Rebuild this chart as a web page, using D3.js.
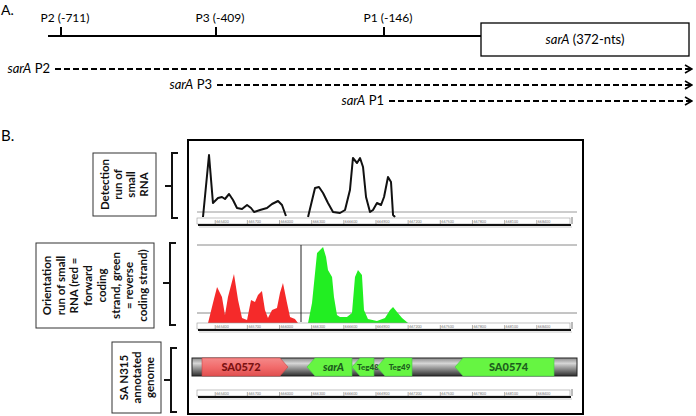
<!DOCTYPE html>
<html>
<head>
<meta charset="utf-8">
<script src="https://cdn.jsdelivr.net/npm/d3@7"></script>
<style>
  body { margin: 0; background: #fff; }
  svg { display: block; }
  text { font-family: Lato, "Open Sans", sans-serif; }
</style>
</head>
<body>
<svg id="chart" width="696" height="416"></svg>
<script>
// ---- Panel A data ----
const promoterNames = ["P2", "P3", "P1"];
const promoterPos = [-711, -409, -146];
const geneLength = 372;

// ---- Panel B data (genome coordinates, coverage) ----
const rulerTicks = [665400, 665700, 666000, 666300, 666600, 666900, 667200, 667500, 667800, 668100, 668400];

const detectRun1 = [
  [665286, 0], [665342, 62], [665379, 14], [665426, 19], [665463, 20], [665491, 18],
  [665529, 23], [665566, 17], [665603, 9], [665650, 8], [665697, 12], [665734, 9],
  [665762, 5], [665818, 7], [665883, 9], [665930, 13], [665986, 16], [666023, 12], [666060, 1]
];
const detectRun2 = [
  [666266, 0], [666331, 29], [666368, 30], [666406, 24], [666452, 14], [666499, 5],
  [666564, 4], [666611, 7], [666657, 27], [666685, 59], [666723, 54], [666751, 59],
  [666779, 50], [666807, 20], [666844, 5], [666872, 7], [666909, 14], [666947, 12],
  [666975, 20], [667012, 40], [667040, 35], [667059, 2], [667078, 0]
];
const forwardRun = [
  [665333, 0], [665379, 20], [665417, 36], [665463, 26], [665491, 8], [665519, 26],
  [665575, 49], [665613, 23], [665650, 5], [665697, 3], [665734, 23], [665771, 21],
  [665799, 28], [665836, 32], [665864, 13], [665892, 5], [665930, 13], [665976, 15],
  [666004, 30], [666032, 40], [666070, 20], [666098, 6], [666144, 4], [666172, 0]
];
const reverseRun = [
  [666266, 0], [666303, 20], [666350, 70], [666378, 73], [666406, 76], [666434, 66],
  [666452, 53], [666490, 46], [666508, 26], [666536, 8], [666564, 6], [666629, 6],
  [666676, 10], [666704, 46], [666732, 53], [666769, 48], [666788, 13], [666825, 4],
  [666909, 2], [666984, 5], [667031, 13], [667059, 16], [667096, 11], [667143, 5], [667199, 0]
];

const geneNames = ["SA0572", "sarA", "Teg48", "Teg49", "SA0574"];
const geneStart = [665277, 666256, 666676, 666909, 667637];
const geneEnd = [666079, 666676, 666881, 667236, 668561];
const geneStrand = ["+", "-", "-", "-", "-"];

const trackLabels = [
  ["Detection", "run of", "small", "RNA"],
  ["Orientation", "run of small", "RNA (red =", "forward", "coding", "strand, green", "= reverse", "coding strand)"],
  ["SA N315", "annotated", "genome"]
];

const svg = d3.select("#chart");

// ---- Panel A ----
svg.append("text").attr("x", 1).attr("y", 15).attr("font-size", 14).text("A.");

// schematic, not to scale: piecewise linear
const xA = d3.scaleLinear()
  .domain([-740, -711, -409, -146, 0, geneLength])
  .range([48, 61, 216, 384, 481, 689]);

svg.append("line")
  .attr("x1", xA(-740)).attr("x2", xA(0))
  .attr("y1", 36).attr("y2", 36)
  .attr("stroke", "#000").attr("stroke-width", 2);

promoterPos.forEach((p, i) => {
  svg.append("line")
    .attr("x1", xA(p)).attr("x2", xA(p))
    .attr("y1", 27).attr("y2", 36)
    .attr("stroke", "#000").attr("stroke-width", 2);
  svg.append("text")
    .attr("x", xA(p) + 4).attr("y", 22)
    .attr("text-anchor", "middle").attr("font-size", 12)
    .text(`${promoterNames[i]} (${p})`);
});

svg.append("rect")
  .attr("x", xA(0)).attr("y", 23)
  .attr("width", xA(geneLength) - xA(0)).attr("height", 33)
  .attr("fill", "#fff").attr("stroke", "#000").attr("stroke-width", 1.3);

const geneTxt = svg.append("text")
  .attr("x", (xA(0) + xA(geneLength)) / 2).attr("y", 44)
  .attr("text-anchor", "middle").attr("font-size", 13);
geneTxt.append("tspan").attr("font-style", "italic").text("sarA");
geneTxt.append("tspan").text(" (372-nts)");

svg.append("defs").append("marker")
  .attr("id", "chev").attr("viewBox", "0 0 10 10")
  .attr("refX", 9).attr("refY", 5)
  .attr("markerWidth", 5).attr("markerHeight", 5)
  .attr("markerUnits", "strokeWidth")
  .attr("orient", "auto")
  .append("path").attr("d", "M2,1 L9,5 L2,9")
  .attr("fill", "none").attr("stroke", "#000").attr("stroke-width", 1.6);

const transcriptY = [69, 85, 101];
const transcriptStart = [55, 217, 389];
promoterNames.forEach((n, i) => {
  const y = transcriptY[i];
  svg.append("line")
    .attr("x1", transcriptStart[i]).attr("x2", 692)
    .attr("y1", y).attr("y2", y)
    .attr("stroke", "#000").attr("stroke-width", 2)
    .attr("stroke-dasharray", "6 3")
    .attr("marker-end", "url(#chev)");
  const t = svg.append("text")
    .attr("x", transcriptStart[i] - 5).attr("y", y + 4)
    .attr("text-anchor", "end").attr("font-size", 13);
  t.append("tspan").attr("font-style", "italic").text("sarA");
  t.append("tspan").text(" " + n);
});

// ---- Panel B ----
svg.append("text").attr("x", 1).attr("y", 141).attr("font-size", 15).text("B.");

svg.append("rect")
  .attr("x", 188).attr("y", 140).attr("width", 395).attr("height", 274)
  .attr("fill", "none").attr("stroke", "#000").attr("stroke-width", 2);

const xg = d3.scaleLinear().domain([665230, 668710]).range([197, 570]);
const y1 = d3.scaleLinear().domain([0, 70]).range([217, 147]);
const y2 = d3.scaleLinear().domain([0, 80]).range([323, 243]);

function ruler(yTop) {
  const r = svg.append("g");
  r.append("rect")
    .attr("x", xg.range()[0]).attr("y", yTop)
    .attr("width", xg.range()[1] - xg.range()[0]).attr("height", 6)
    .attr("fill", "#fff").attr("stroke", "#9a9a9a").attr("stroke-width", 0.6);
  r.append("line")
    .attr("x1", xg.range()[0] + 1).attr("x2", xg.range()[1] + 1)
    .attr("y1", yTop + 7).attr("y2", yTop + 7)
    .attr("stroke", "#111").attr("stroke-width", 2);
  r.append("line")
    .attr("x1", xg.range()[0] + 2).attr("x2", xg.range()[1] + 2)
    .attr("y1", yTop + 9).attr("y2", yTop + 9)
    .attr("stroke", "#ccc").attr("stroke-width", 1);
  r.selectAll(".tk").data(rulerTicks).join("line")
    .attr("x1", (d) => xg(d)).attr("x2", (d) => xg(d))
    .attr("y1", yTop + 2).attr("y2", yTop + 6)
    .attr("stroke", "#777").attr("stroke-width", 0.6);
  r.selectAll(".lb").data(rulerTicks).join("text")
    .attr("x", (d) => xg(d) + 1).attr("y", yTop + 5)
    .attr("font-size", 3.6).attr("fill", "#777")
    .text((d) => d);
  r.append("line")
    .attr("x1", xg.range()[1] + 2).attr("x2", xg.range()[1] + 2)
    .attr("y1", yTop - 1).attr("y2", yTop + 6)
    .attr("stroke", "#555").attr("stroke-width", 0.8);
}

// track 1: detection run
svg.append("line")
  .attr("x1", 197).attr("x2", 577).attr("y1", y1(5)).attr("y2", y1(5))
  .attr("stroke", "#9a9a9a").attr("stroke-width", 1);

const detLine = d3.line().x((d) => xg(d[0])).y((d) => y1(d[1]));
[detectRun1, detectRun2].forEach((run) => {
  svg.append("path").datum(run)
    .attr("d", detLine)
    .attr("fill", "none").attr("stroke", "#111")
    .attr("stroke-width", 2).attr("stroke-linejoin", "round");
});
ruler(218);

// track 2: orientation run
[245, 313].forEach((yy) => {
  svg.append("line")
    .attr("x1", 197).attr("x2", 577).attr("y1", yy).attr("y2", yy)
    .attr("stroke", "#8a8a8a").attr("stroke-width", 1);
});

const area2 = d3.area().x((d) => xg(d[0])).y0(y2(0)).y1((d) => y2(d[1]));
svg.append("path").datum(forwardRun).attr("d", area2).attr("fill", "#f52a2a");
svg.append("path").datum(reverseRun).attr("d", area2).attr("fill", "#22ee22");

svg.append("line")
  .attr("x1", 301).attr("x2", 301).attr("y1", 245).attr("y2", 322)
  .attr("stroke", "#222").attr("stroke-width", 1);
ruler(323);

// track 3: annotated genome
const defs = svg.select("defs");
const gg = defs.append("linearGradient").attr("id", "barGrad")
  .attr("x1", 0).attr("y1", 0).attr("x2", 0).attr("y2", 1);
gg.append("stop").attr("offset", "0%").attr("stop-color", "#8a8a8a");
gg.append("stop").attr("offset", "30%").attr("stop-color", "#d6d6d6");
gg.append("stop").attr("offset", "100%").attr("stop-color", "#2e2e2e");

const rg = defs.append("linearGradient").attr("id", "redGrad")
  .attr("x1", 0).attr("y1", 0).attr("x2", 0).attr("y2", 1);
rg.append("stop").attr("offset", "0%").attr("stop-color", "#f48a8a");
rg.append("stop").attr("offset", "50%").attr("stop-color", "#f26c6c");
rg.append("stop").attr("offset", "100%").attr("stop-color", "#e05050");

const barTop = 358, barBot = 376, barMid = (barTop + barBot) / 2;
svg.append("rect")
  .attr("x", 192).attr("y", barTop).attr("width", 385).attr("height", barBot - barTop)
  .attr("fill", "url(#barGrad)").attr("stroke", "#222").attr("stroke-width", 1);

const head = 8;
geneNames.forEach((name, i) => {
  const x0 = xg(geneStart[i]), x1 = xg(geneEnd[i]);
  const pts = geneStrand[i] === "+"
    ? [[x0, barTop], [x1 - head, barTop], [x1, barMid], [x1 - head, barBot], [x0, barBot]]
    : [[x0, barMid], [x0 + head, barTop], [x1, barTop], [x1, barBot], [x0 + head, barBot]];
  const fwd = geneStrand[i] === "+";
  svg.append("polygon")
    .attr("points", pts.map((p) => p.join(",")).join(" "))
    .attr("fill", fwd ? "url(#redGrad)" : "#66f542")
    .attr("stroke", fwd ? "#c44" : "#4c4")
    .attr("stroke-width", 0.6);
  const cx = fwd ? (x0 + x1 - head) / 2 : (x0 + head + x1) / 2;
  const small = name.startsWith("Teg");
  svg.append("text")
    .attr("x", cx + (small ? 1 : 0)).attr("y", barMid + (small ? 3 : 4))
    .attr("text-anchor", "middle")
    .attr("font-size", small ? 8 : 11)
    .attr("font-weight", "900")
    .attr("font-style", name === "sarA" ? "italic" : "normal")
    .attr("fill", fwd ? "#7a1212" : "#1d5e1d")
    .text(name);
});
ruler(390);

// ---- left labels with brackets ----
const labelBoxes = [
  { x: 93, y: 153, w: 63, h: 63 },
  { x: 36, y: 243, w: 118, h: 85 },
  { x: 112, y: 342, w: 49, h: 71 }
];
const brackets = [
  { x: 172, top: 153, bot: 218, mid: 186 },
  { x: 170, top: 243, bot: 325, mid: 283 },
  { x: 171, top: 348, bot: 412, mid: 380 }
];
const lineGap = [13, 13.7, 13];

trackLabels.forEach((lines, i) => {
  const b = labelBoxes[i];
  svg.append("rect")
    .attr("x", b.x).attr("y", b.y).attr("width", b.w).attr("height", b.h)
    .attr("fill", "#fff").attr("stroke", "#333").attr("stroke-width", 1);
  const cx = b.x + b.w / 2, cy = b.y + b.h / 2;
  lines.forEach((ln, j) => {
    const off = (j - (lines.length - 1) / 2) * lineGap[i];
    svg.append("text")
      .attr("transform", `translate(${cx + off + 4},${cy}) rotate(-90)`)
      .attr("text-anchor", "middle")
      .attr("font-size", 11.5).attr("font-weight", "bold")
      .attr("fill", "#111")
      .text(ln);
  });
  const k = brackets[i];
  svg.append("path")
    .attr("d", `M${k.x + 6},${k.top} L${k.x},${k.top} L${k.x},${k.bot} L${k.x + 6},${k.bot} M${k.x},${k.mid} L${k.x - 7},${k.mid}`)
    .attr("fill", "none").attr("stroke", "#111").attr("stroke-width", 2);
});
</script>
</body>
</html>
